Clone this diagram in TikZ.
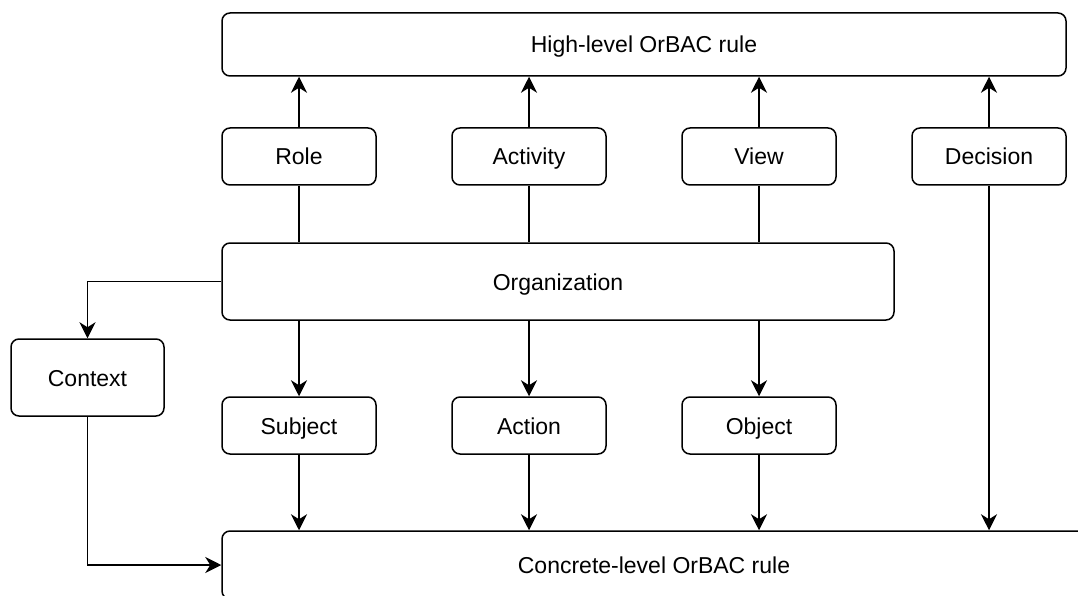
\documentclass[tikz,border=0pt]{standalone}
\usepackage{fontspec}
\setmainfont{Liberation Sans}
\usetikzlibrary{arrows.meta}
\begin{document}
\begin{tikzpicture}[x=1pt,y=-1pt,
  box/.style={draw, line width=1.5pt, rounded corners=8pt, inner sep=0pt, align=center,
    font=\fontsize{23}{27}\selectfont, text height=17pt, text depth=0pt},
  arr/.style={line width=1.5pt, -{Stealth[length=16pt,width=16pt,inset=5pt]}},
  ln/.style={line width=1.5pt}]
\clip (0,0) rectangle (1078,596);
\fill[white] (0,0) rectangle (1078,596);
\node[box, minimum width=844pt, minimum height=63pt] (high) at (644,44.5) {High-level OrBAC rule};
\node[box, minimum width=154pt, minimum height=57pt] (role) at (299,156.5) {Role};
\node[box, minimum width=154pt, minimum height=57pt] (activity) at (529,156.5) {Activity};
\node[box, minimum width=154pt, minimum height=57pt] (view) at (759,156.5) {View};
\node[box, minimum width=154pt, minimum height=57pt] (decision) at (989,156.5) {Decision};
\node[box, minimum width=672pt, minimum height=77pt] (org) at (558,281.5) {Organization};
\node[box, minimum width=153pt, minimum height=77pt] (context) at (87.5,377.5) {Context};
\node[box, minimum width=154pt, minimum height=57pt] (subject) at (299,425.5) {Subject};
\node[box, minimum width=154pt, minimum height=57pt] (action) at (529,425.5) {Action};
\node[box, minimum width=154pt, minimum height=57pt] (object) at (759,425.5) {Object};
\node[box, minimum width=864pt, minimum height=68pt] (concrete) at (654,565) {Concrete-level OrBAC rule};
% up arrows
\foreach \n in {role,activity,view,decision}
  \draw[arr] (\n.north) -- (\n.north |- high.south);
% lines from org
\foreach \n in {role,activity,view}
  \draw[ln] (\n.south) -- (\n.south |- org.north);
% org to lower
\foreach \n in {subject,action,object}{
  \draw[arr] (\n.north |- org.south) -- (\n.north);
  \draw[arr] (\n.south) -- (\n.south |- concrete.north);
}
\draw[arr] (org.west) -| (context.north);
\draw[arr] (context.south) |- (concrete.west);
\draw[arr] (decision.south) -- (decision.south |- concrete.north);
\end{tikzpicture}
\end{document}
